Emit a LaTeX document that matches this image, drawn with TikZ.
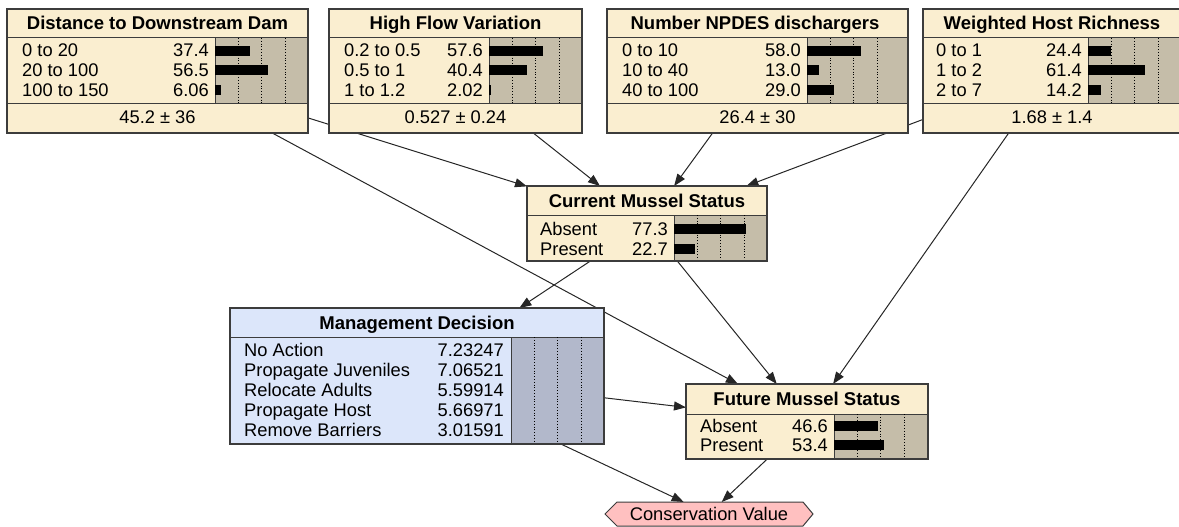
\documentclass[tikz,border=0pt]{standalone}
\usepackage{fontspec}
\setmainfont{Liberation Sans}
\usetikzlibrary{arrows.meta}
\definecolor{cream}{RGB}{250,238,208}
\definecolor{barbg}{RGB}{197,189,169}
\definecolor{mdfill}{RGB}{220,230,250}
\definecolor{mdbar}{RGB}{178,184,203}
\definecolor{cvfill}{RGB}{255,192,192}
\definecolor{bord}{RGB}{60,60,60}
\pgfdeclarelayer{bg}\pgfsetlayers{bg,main}
\tikzset{
 box/.style={anchor=north west, inner sep=0pt, outer sep=0pt},
 ttl/.style={font=\fontsize{18.5}{20}\selectfont\bfseries, anchor=base, inner sep=0pt},
 lbl/.style={font=\fontsize{18.3}{20}\selectfont, anchor=base west, inner sep=0pt},
 val/.style={lbl, anchor=base east},
 mean/.style={lbl, anchor=base},
 sepline/.style={draw=bord, line width=1pt},
 border/.style={draw=bord, line width=1.3pt},
 gridline/.style={black, line width=0.8pt, dotted},
 arr/.style={draw=black!85, line width=1pt, -{Triangle[length=12pt,width=9pt]}},
}
% #1 name, #2 x0, #3 x1, #4 y0, #5 ysep, #6 ybody, #7 y1, #8 xbar
\newcommand\bnnode[8]{%
 \node[box, fill=\boxfill, minimum width={#3-#2}, minimum height={#7-#4}] (#1) at (#2,#4) {};
 \fill[\barfill] (#8,#5) rectangle (#3,#6);
 \draw[sepline] (#2,#5) -- (#3,#5);
 \draw[sepline] (#8,#5) -- (#8,#6);
 \draw[sepline] (#2,#6) -- (#3,#6);
 \foreach \k in {1,2,3} \draw[gridline] (#8+23.4*\k,#5) -- (#8+23.4*\k,#6);
 \draw[border] (#1.north west) rectangle (#1.south east);
}
% #1 name, #2 xl, #3 xbar, #4 baseline, #5 label, #6 value, #7 pct
\newcommand\srow[7]{%
 \node[lbl] (#1l) at (#2,#4) {#5};
 \node[val] (#1v) at (#3-6,#4) {#6};
 \fill[black] (#3,#4-11) rectangle (#3+0.936*#7,#4-1);
}
\begin{document}
\begin{tikzpicture}[x=1pt,y=-1pt]
\useasboundingbox (0,0) rectangle (1179,527);
\clip (0,0) rectangle (1179,527);
\def\boxfill{cream}\def\barfill{barbg}
% Distance to Downstream Dam
\bnnode{dist}{7}{308}{9}{38}{104}{133}{215}
\node[ttl] (distt) at (157.5,30) {Distance to Downstream Dam};
\srow{dista}{22}{215}{57}{0 to 20}{37.4}{37.4}
\srow{distb}{22}{215}{76.5}{20 to 100}{56.5}{56.5}
\srow{distc}{22}{215}{96}{100 to 150}{6.06}{6.06}
\node[mean] (distm) at (157.5,124) {45.2 ± 36};
% High Flow Variation
\bnnode{flow}{329}{582}{9}{38}{104}{133}{489}
\node[ttl] (flowt) at (455.5,30) {High Flow Variation};
\srow{flowa}{344}{489}{57}{0.2 to 0.5}{57.6}{57.6}
\srow{flowb}{344}{489}{76.5}{0.5 to 1}{40.4}{40.4}
\srow{flowc}{344}{489}{96}{1 to 1.2}{2.02}{2.02}
\node[mean] (flowm) at (455.5,124) {0.527 ± 0.24};
% Number NPDES dischargers
\bnnode{npdes}{607}{908}{9}{38}{104}{133}{807}
\node[ttl] (npdest) at (755,30) {Number NPDES dischargers};
\srow{npdesa}{622}{807}{57}{0 to 10}{58.0}{58.0}
\srow{npdesb}{622}{807}{76.5}{10 to 40}{13.0}{13.0}
\srow{npdesc}{622}{807}{96}{40 to 100}{29.0}{29.0}
\node[mean] (npdesm) at (757.5,124) {26.4 ± 30};
% Weighted Host Richness
\bnnode{host}{923}{1181}{9}{38}{104}{133}{1088}
\node[ttl] (hostt) at (1052,30) {Weighted Host Richness};
\srow{hosta}{936}{1088}{57}{0 to 1}{24.4}{24.4}
\srow{hostb}{936}{1088}{76.5}{1 to 2}{61.4}{61.4}
\srow{hostc}{936}{1088}{96}{2 to 7}{14.2}{14.2}
\node[mean] (hostm) at (1052,124) {1.68 ± 1.4};
% Current Mussel Status
\bnnode{cur}{527}{767}{186}{215}{261}{261}{674}
\node[ttl] (curt) at (647,207) {Current Mussel Status};
\srow{cura}{540}{674}{235}{Absent}{77.3}{77.3}
\srow{curb}{540}{674}{255}{Present}{22.7}{22.7}
% Future Mussel Status
\bnnode{fut}{686}{928}{384}{414}{459}{459}{834}
\node[ttl] (futt) at (807,405) {Future Mussel Status};
\srow{futa}{700}{834}{432}{Absent}{46.6}{46.6}
\srow{futb}{700}{834}{451}{Present}{53.4}{53.4}
% Management Decision
\def\boxfill{mdfill}\def\barfill{mdbar}
\bnnode{md}{230}{604}{308}{337}{444}{444}{511}
\node[ttl] (mdt) at (417,329.5) {Management Decision};
\node[lbl] (mda) at (244,356) {No Action};
\node[val] (mdav) at (504,356) {7.23247};
\node[lbl] (mdb) at (244,376) {Propagate Juveniles};
\node[val] (mdbv) at (504,376) {7.06521};
\node[lbl] (mdc) at (244,396) {Relocate Adults};
\node[val] (mdcv) at (504,396) {5.59914};
\node[lbl] (mdd) at (244,416) {Propagate Host};
\node[val] (mddv) at (504,416) {5.66971};
\node[lbl] (mde) at (244,436) {Remove Barriers};
\node[val] (mdev) at (504,436) {3.01591};
% Conservation Value
\draw[draw=bord, fill=cvfill, line width=1pt] (605,514) -- (617,502) -- (803,502) -- (813,514) -- (803,526) -- (617,526) -- cycle;
\node[inner sep=0pt, outer sep=0pt, minimum width=208, minimum height=24, font=\fontsize{18.3}{20}\selectfont] (cv) at (709,514) {Conservation Value};
% connectors
\begin{pgfonlayer}{bg}
\draw[arr] (dist) -- (cur);
\draw[arr] (flow) -- (cur);
\draw[arr] (npdes) -- (cur);
\draw[arr] (host) -- (cur);
\draw[arr] (dist) -- (fut);
\draw[arr] (host) -- (fut);
\draw[arr] (cur) -- (md);
\draw[arr] (cur) -- (fut);
\draw[arr] (md) -- (fut);
\draw[arr] (md) -- (cv);
\draw[arr] (fut) -- (cv);
\end{pgfonlayer}
\end{tikzpicture}
\end{document}
